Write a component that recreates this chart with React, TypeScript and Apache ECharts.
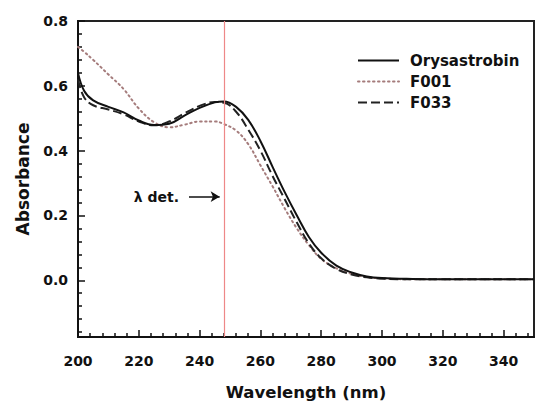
import React, { useEffect, useRef } from "react";
import * as echarts from "echarts";

const wavelengths = [200, 202, 205, 210, 215, 220, 225, 230, 235, 240, 245, 248, 252, 256, 260, 264, 268, 272, 276, 280, 285, 290, 295, 300, 310, 320, 330, 340, 350];
const orysastrobin = [0.64, 0.585, 0.555, 0.535, 0.518, 0.493, 0.479, 0.483, 0.508, 0.532, 0.549, 0.552, 0.535, 0.495, 0.43, 0.35, 0.272, 0.2, 0.133, 0.085, 0.045, 0.024, 0.012, 0.007, 0.004, 0.003, 0.003, 0.003, 0.003];
const f001 = [0.72, 0.705, 0.68, 0.635, 0.59, 0.53, 0.488, 0.472, 0.48, 0.49, 0.49, 0.482, 0.462, 0.42, 0.355, 0.29, 0.222, 0.16, 0.108, 0.066, 0.037, 0.02, 0.01, 0.006, 0.003, 0.003, 0.003, 0.003, 0.003];
const f033 = [0.62, 0.565, 0.54, 0.527, 0.512, 0.49, 0.478, 0.49, 0.515, 0.538, 0.55, 0.548, 0.52, 0.465, 0.4, 0.322, 0.25, 0.178, 0.113, 0.068, 0.035, 0.018, 0.009, 0.005, 0.003, 0.003, 0.003, 0.003, 0.003];

const xMajorTicks = [200, 220, 240, 260, 280, 300, 320, 340];
const xMinorTicks = [204, 208, 212, 216, 224, 228, 232, 236, 244, 248, 252, 256, 264, 268, 272, 276, 284, 288, 292, 296, 304, 308, 312, 316, 324, 328, 332, 336, 344, 348];
const yMajorTicks = [0, 0.2, 0.4, 0.6, 0.8];
const yMinorTicks = [-0.16, -0.12, -0.08, -0.04, 0.04, 0.08, 0.12, 0.16, 0.24, 0.28, 0.32, 0.36, 0.44, 0.48, 0.52, 0.56, 0.64, 0.68, 0.72, 0.76];

const detectionWavelength = 248;
const arrowStart = [236.5, 0.258];
const arrowEnd = [246.6, 0.258];

const X_MIN = 200, X_MAX = 350, Y_MIN = -0.175, Y_MAX = 0.8;
const FONT = "DejaVu Sans";

const pairs = (ys: number[]) => wavelengths.map((w, i) => [w, ys[i]]);

export default function App() {
  const ref = useRef<HTMLDivElement>(null);
  useEffect(() => {
    if (!ref.current) return;
    const chart = echarts.init(ref.current, null, { renderer: "svg" });
    const baseX = { type: "value", min: X_MIN, max: X_MAX, splitLine: { show: false } };
    const baseY = { type: "value", min: Y_MIN, max: Y_MAX, splitLine: { show: false } };
    chart.setOption({
      animation: false,
      backgroundColor: "#fff",
      grid: { left: 78, right: 2, top: 21, bottom: 64, show: true, borderColor: "#222", borderWidth: 2, containLabel: false, outerBoundsMode: "none" },
      legend: {
        orient: "vertical",
        left: 352,
        top: 48,
        itemWidth: 41,
        itemHeight: 14,
        itemGap: 6,
        itemStyle: { opacity: 0 },
        textStyle: { fontFamily: FONT, fontWeight: "bold", fontSize: 15, color: "#111", padding: [0, 0, 0, 6] },
        data: ["Orysastrobin", "F001", "F033"],
      },
      xAxis: [
        {
          ...baseX,
          name: "Wavelength (nm)",
          nameLocation: "middle",
          nameGap: 47,
          nameTextStyle: { fontFamily: FONT, fontWeight: "bold", fontSize: 16.5, color: "#111" },
          axisLine: { show: true, onZero: false, lineStyle: { color: "#111", width: 2 } },
          axisTick: { show: true, inside: true, length: 7, customValues: xMajorTicks, lineStyle: { color: "#111", width: 1.5 } },
          axisLabel: { customValues: xMajorTicks, margin: 17, fontFamily: FONT, fontWeight: "bold", fontSize: 14, color: "#111" },
        },
        {
          ...baseX,
          position: "bottom",
          axisLine: { show: false, onZero: false },
          axisLabel: { show: false },
          axisTick: { show: true, inside: true, length: 4, customValues: xMinorTicks, lineStyle: { color: "#111", width: 1.5 } },
        },
      ],
      yAxis: [
        {
          ...baseY,
          name: "Absorbance",
          nameLocation: "middle",
          nameGap: 47,
          nameTextStyle: { fontFamily: FONT, fontWeight: "bold", fontSize: 17, color: "#111" },
          axisLine: { show: true, onZero: false, lineStyle: { color: "#111", width: 2 } },
          axisTick: { show: true, inside: true, length: 7, customValues: yMajorTicks, lineStyle: { color: "#111", width: 1.5 } },
          axisLabel: { customValues: yMajorTicks, margin: 10, formatter: (v: number) => v.toFixed(1), fontFamily: FONT, fontWeight: "bold", fontSize: 14, color: "#111" },
        },
        {
          ...baseY,
          position: "left",
          axisLine: { show: false, onZero: false },
          axisLabel: { show: false },
          axisTick: { show: true, inside: true, length: 4, customValues: yMinorTicks, lineStyle: { color: "#111", width: 1.5 } },
        },
      ],
      series: [
        {
          name: "Orysastrobin",
          type: "line",
          smooth: 0.4,
          symbol: "none",
          data: pairs(orysastrobin),
          lineStyle: { color: "#111", width: 2 },
          itemStyle: { color: "#111" },
          z: 4,
          markLine: {
            silent: true,
            symbol: ["none", "none"],
            label: { show: false },
            lineStyle: { color: "#ee8888", width: 1.2, type: "solid" },
            data: [{ xAxis: detectionWavelength }],
          },
        },
        {
          name: "F001",
          type: "line",
          smooth: 0.4,
          symbol: "none",
          data: pairs(f001),
          lineStyle: { color: "#a57c7c", width: 2, type: [1.5, 3.5], cap: "round" },
          itemStyle: { color: "#a57c7c" },
          z: 3,
        },
        {
          name: "F033",
          type: "line",
          smooth: 0.4,
          symbol: "none",
          data: pairs(f033),
          lineStyle: { color: "#222", width: 2, type: [9, 4] },
          itemStyle: { color: "#222" },
          z: 3,
          markLine: {
            silent: true,
            symbol: ["none", "arrow"],
            symbolSize: [8, 9],
            label: { show: true, position: "start", distance: 10, formatter: "λ det.", fontFamily: FONT, fontWeight: "bold", fontSize: 14, color: "#111" },
            lineStyle: { color: "#111", width: 1.5, type: "solid" },
            data: [[{ coord: arrowStart }, { coord: arrowEnd }]],
          },
        },
      ],
    });
    return () => chart.dispose();
  }, []);
  return <div ref={ref} style={{ position: "fixed", left: 0, top: 0, width: 536, height: 401 }} />;
}
